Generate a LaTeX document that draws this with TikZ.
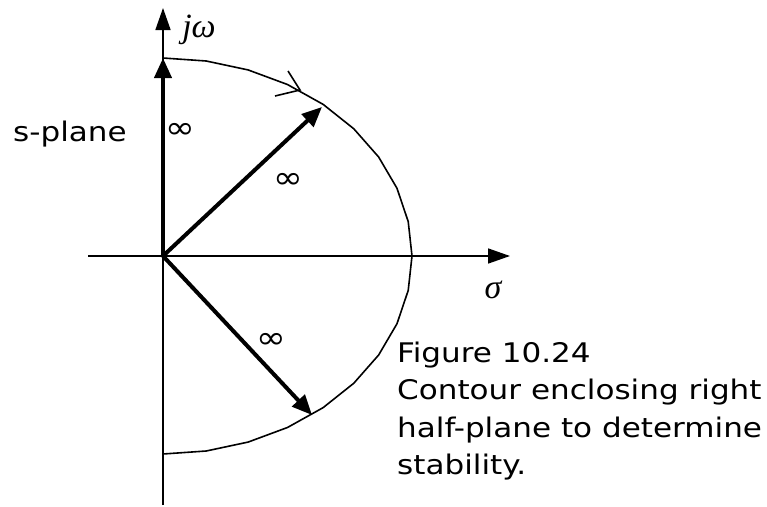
\documentclass[tikz,border=0pt]{standalone}
\usepackage{fontspec}
\setmainfont[FakeStretch=1.15]{DejaVu Sans}
\newfontfamily\greekit{Liberation Serif}
\usetikzlibrary{arrows.meta}
\begin{document}
\begin{tikzpicture}[x=1pt,y=-1pt,
  axis/.style={line width=1.6pt,-{Triangle[length=22pt,width=15pt]}},
  vec/.style={line width=4pt,-{Triangle[length=20pt,width=17pt]}},
  contour/.style={line width=1.6pt},
  lbl/.style={font=\fontsize{27}{32}\selectfont,inner sep=0pt},
  inf/.style={font=\fontsize{31}{34}\selectfont,inner sep=0pt},
  gk/.style={font=\fontsize{34}{38}\selectfont\greekit\itshape,inner sep=0pt}]
\useasboundingbox (0,0) rectangle (767,506);
\coordinate (O) at (163,256);
\coordinate (ytop) at (163,8);
\coordinate (ybot) at (163,505);
\coordinate (xl) at (88,256);
\coordinate (xr) at (510,256);
\coordinate (vup) at (163,58);
\coordinate (vne) at (322,107);
\coordinate (vse) at (312,415);
\coordinate (ca) at (300,90);
% axes
\draw[axis] (ybot) -- (ytop);
\draw[axis] (xl) -- (xr);
% contour
\draw[contour] plot[domain=90:-90,samples=19] ({163+249*cos(\x)},{256-198*sin(\x)});
\draw[contour] (ca) ++(-12,-19) -- (ca) -- ++(-25,6);
% vectors
\draw[vec] (O) -- (vup);
\draw[vec] (O) -- (vne);
\draw[vec] (O) -- (vse);
% labels
\node[gk] (jw) at (199,30) {jω};
\node[gk] (sig) at (493,290) {σ};
\node[inf] (i1) at (180,131) {∞};
\node[inf] (i2) at (288,181) {∞};
\node[inf] (i3) at (271,341) {∞};
\node[lbl,anchor=base west] (sp) at (13,141.7) {s-plane};
\node[lbl,anchor=base west] (c1) at (397,362) {Figure 10.24};
\node[lbl,anchor=base west] (c2) at (397,399.5) {Contour enclosing right};
\node[lbl,anchor=base west] (c3) at (397,437) {half-plane to determine};
\node[lbl,anchor=base west] (c4) at (397,474.5) {stability.};
\end{tikzpicture}
\end{document}
